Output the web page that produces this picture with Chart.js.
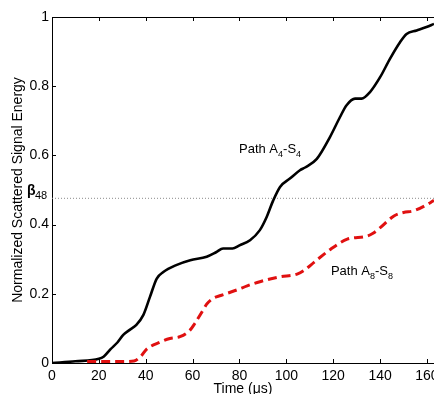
<!DOCTYPE html>
<html><head><meta charset="utf-8">
<script src="https://cdn.jsdelivr.net/npm/chart.js@4.4.1/dist/chart.umd.min.js"></script>
<style>html,body{margin:0;padding:0;background:#fff;overflow:hidden}</style>
</head><body>
<canvas id="c" width="434" height="394"></canvas>
<script>
// Path A4-S4 (solid black)
const pathA4Time   = [0, 10, 20, 22, 25, 28, 30.4, 33, 36, 39, 41.8, 44.7, 47.5, 53, 59, 66, 70, 73, 77, 80, 84.5, 88.7, 91.6, 94.4, 97.3, 101.5, 105.8, 108, 113, 118.6, 122.9, 125.7, 129.3, 132.1, 135.7, 140, 144.2, 148.5, 151.3, 155.6, 159.8, 163];
const pathA4Energy = [0, 0.005, 0.012, 0.018, 0.04, 0.06, 0.081, 0.095, 0.11, 0.139, 0.191, 0.244, 0.263, 0.283, 0.297, 0.307, 0.32, 0.331, 0.331, 0.34, 0.355, 0.384, 0.422, 0.47, 0.509, 0.533, 0.557, 0.565, 0.59, 0.653, 0.711, 0.745, 0.764, 0.764, 0.783, 0.826, 0.879, 0.927, 0.951, 0.961, 0.971, 0.98];
// Path A8-S8 (dashed red)
const pathA8Time   = [15, 20, 25, 30, 35, 38, 40.4, 46, 50.3, 54.6, 58.9, 61, 64.5, 66, 68.8, 72, 78.8, 83.3, 88.7, 97.3, 104.6, 108, 111.8, 118.9, 126, 134.5, 137, 140.2, 145.9, 150, 154.4, 161.6, 163];
const pathA8Energy = [0.004, 0.004, 0.004, 0.004, 0.006, 0.02, 0.04, 0.06, 0.071, 0.076, 0.095, 0.115, 0.153, 0.17, 0.187, 0.195, 0.211, 0.223, 0.235, 0.249, 0.257, 0.27, 0.291, 0.329, 0.358, 0.367, 0.375, 0.392, 0.425, 0.435, 0.44, 0.464, 0.47];
// threshold beta_48
const beta48 = 0.476;
const xTicks = [0, 20, 40, 60, 80, 100, 120, 140, 160];
const yTicks = [0, 0.2, 0.4, 0.6, 0.8, 1];
const xRange = [0, 163];
const yRange = [0, 1];

const toPts = (xs, ys) => xs.map((x, i) => ({x: x, y: ys[i]}));
const FONT = "'Liberation Sans', Arial, Helvetica, sans-serif";

const decorPlugin = {
  id: 'decor',
  afterDraw(chart) {
    const ctx = chart.ctx, ca = chart.chartArea;
    const xs = chart.scales.x, ys = chart.scales.y;
    ctx.save();
    ctx.strokeStyle = '#000'; ctx.lineWidth = 1;
    ctx.beginPath();
    xTicks.forEach(v => {
      const px = Math.round(xs.getPixelForValue(v)) + 0.5;
      ctx.moveTo(px, ca.bottom); ctx.lineTo(px, ca.bottom - 4);
      ctx.moveTo(px, ca.top); ctx.lineTo(px, ca.top + 4);
    });
    yTicks.forEach(v => {
      const py = Math.round(ys.getPixelForValue(v)) + 0.5;
      ctx.moveTo(ca.left, py); ctx.lineTo(ca.left + 4, py);
    });
    ctx.stroke();
    ctx.fillStyle = '#000';
    ctx.textBaseline = 'alphabetic';
    // beta label
    const by = ys.getPixelForValue(beta48);
    ctx.font = 'bold 14px ' + FONT;
    ctx.fillText('\u03B2', ca.left - 25, by - 3);
    ctx.font = '11px ' + FONT;
    ctx.fillText('48', ca.left - 17, by + 1);
    // path labels
    const lbl = (x, y, main, s1, mid, s2) => {
      let px = xs.getPixelForValue(x), py = ys.getPixelForValue(y);
      ctx.font = '13px ' + FONT; ctx.fillText(main, px, py); px += ctx.measureText(main).width;
      ctx.font = '9px ' + FONT; ctx.fillText(s1, px, py + 4); px += ctx.measureText(s1).width;
      ctx.font = '13px ' + FONT; ctx.fillText(mid, px, py); px += ctx.measureText(mid).width;
      ctx.font = '9px ' + FONT; ctx.fillText(s2, px, py + 4);
    };
    lbl(79.8, 0.606, 'Path A', '4', '-S', '4');
    lbl(119, 0.255, 'Path A', '8', '-S', '8');
    ctx.restore();
  }
};

new Chart(document.getElementById('c'), {
  type: 'line',
  data: {
    datasets: [
      { label: 'Path A8-S8', data: toPts(pathA8Time, pathA8Energy), borderColor: '#e01010', borderWidth: 3, borderDash: [9, 5], pointRadius: 0, cubicInterpolationMode: 'monotone', fill: false, order: 0 },
      { label: 'Path A4-S4', data: toPts(pathA4Time, pathA4Energy), borderColor: '#000', borderWidth: 2.6, pointRadius: 0, cubicInterpolationMode: 'monotone', fill: false, order: 1 },
      { label: 'beta48', data: toPts(xRange, [beta48, beta48]), borderColor: '#8a8a8a', borderWidth: 1, borderDash: [1, 2], pointRadius: 0, fill: false, order: 2 }
    ]
  },
  options: {
    responsive: false, animation: false, devicePixelRatio: 1,
    layout: { padding: 0 },
    plugins: { legend: { display: false }, tooltip: { enabled: false } },
    scales: {
      x: {
        type: 'linear', position: 'bottom', min: xRange[0], max: xRange[1],
        afterFit: s => { s.height = 31; s.paddingLeft = 0; s.paddingRight = 0; },
        ticks: { stepSize: 20, includeBounds: false, autoSkip: false, maxRotation: 0, padding: 5, color: '#000', font: { family: FONT, size: 14 } },
        grid: { display: false, drawTicks: false },
        border: { display: true, color: '#000', width: 1 },
        title: { display: true, text: 'Time (\u03BCs)', color: '#000', font: { family: FONT, size: 14, lineHeight: 0.7 }, padding: 0 }
      },
      x2: {
        type: 'linear', position: 'top', min: xRange[0], max: xRange[1], display: true,
        afterFit: s => { s.height = 17; s.paddingLeft = 0; s.paddingRight = 0; },
        ticks: { display: false },
        grid: { display: false, drawTicks: false },
        border: { display: true, color: '#000', width: 1 }
      },
      y: {
        type: 'linear', position: 'left', min: yRange[0], max: yRange[1],
        afterFit: s => { s.width = 52; s.paddingTop = 0; s.paddingBottom = 0; },
        ticks: { stepSize: 0.2, padding: 3, color: '#000', font: { family: FONT, size: 14 }, callback: v => String(+v.toFixed(1)) },
        grid: { display: false, drawTicks: false },
        border: { display: true, color: '#000', width: 1 },
        title: { display: true, text: 'Normalized Scattered Signal Energy', color: '#000', font: { family: FONT, size: 14 }, padding: { top: 10, bottom: 0 } }
      }
    }
  },
  plugins: [decorPlugin]
});
</script>
</body></html>
